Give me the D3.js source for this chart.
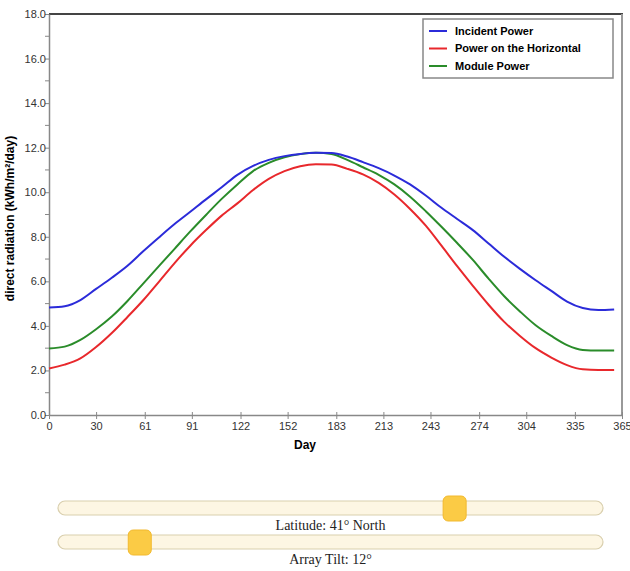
<!DOCTYPE html>
<html lang="en">
<head>
<meta charset="UTF-8">
<title>Solar radiation</title>
<script src="https://cdn.jsdelivr.net/npm/d3@7"></script>
<style>
    body { margin: 0; background: #fff; }
    svg { display: block; }
</style>
</head>
<body>
<svg width="630" height="571"></svg>
<script>
    // days sampled along the year
    var days = [0, 10, 20, 30, 40, 50, 60, 70, 80, 90, 100, 110, 120, 130, 140, 150, 160, 170, 180,
        190, 200, 210, 220, 230, 240, 250, 260, 270, 280, 290, 300, 310, 320, 330, 340, 350, 360];

    var incidentPower = [4.82, 4.88, 5.16, 5.66, 6.16, 6.70, 7.35, 7.97, 8.57, 9.12, 9.68, 10.22, 10.78,
        11.18, 11.45, 11.62, 11.72, 11.77, 11.76, 11.60, 11.35, 11.08, 10.75, 10.35, 9.85, 9.30, 8.80,
        8.30, 7.70, 7.10, 6.56, 6.05, 5.57, 5.09, 4.80, 4.71, 4.74];

    var horizontalPower = [2.09, 2.26, 2.54, 3.05, 3.68, 4.40, 5.15, 5.98, 6.82, 7.60, 8.30, 8.95, 9.50,
        10.10, 10.60, 10.95, 11.17, 11.26, 11.24, 11.05, 10.80, 10.42, 9.90, 9.25, 8.50, 7.60, 6.68,
        5.80, 4.95, 4.18, 3.55, 3.00, 2.58, 2.24, 2.05, 2.02, 2.02];

    var modulePower = [2.99, 3.07, 3.37, 3.85, 4.42, 5.12, 5.90, 6.68, 7.46, 8.24, 8.98, 9.70, 10.35,
        10.95, 11.32, 11.57, 11.71, 11.77, 11.72, 11.45, 11.12, 10.78, 10.35, 9.80, 9.15, 8.45, 7.72,
        6.96, 6.12, 5.33, 4.65, 4.03, 3.55, 3.14, 2.92, 2.89, 2.89];

    var seriesNames = ["Incident Power", "Power on the Horizontal", "Module Power"];
    var seriesColors = ["#2b2bd9", "#e8282c", "#2a8c2a"];

    var xTicks = [0, 30, 61, 91, 122, 152, 183, 213, 243, 274, 304, 335, 365];
    var yTicks = [0, 2, 4, 6, 8, 10, 12, 14, 16, 18];
    var yMinor = [1, 3, 5, 7, 9, 11, 13, 15, 17];

    var latitude = 41;
    var tilt = 12;

    var svg = d3.select("svg");
    var plotLeft = 49, plotRight = 622, plotTop = 14, plotBottom = 415;

    var x = d3.scaleLinear().domain([0, 365]).range([plotLeft, plotRight]);
    var y = d3.scaleLinear().domain([0, 18]).range([plotBottom, plotTop]);

    var font = "'Liberation Sans', Arial, sans-serif";

    // frame: top dark, right grey
    svg.append("line").attr("x1", plotLeft).attr("x2", plotRight + 1).attr("y1", plotTop).attr("y2", plotTop)
        .attr("stroke", "#444").attr("stroke-width", 2);
    svg.append("line").attr("x1", plotRight).attr("x2", plotRight).attr("y1", plotTop).attr("y2", plotBottom)
        .attr("stroke", "#999").attr("stroke-width", 2);

    // y axis
    var yAxis = svg.append("g").attr("transform", "translate(" + plotLeft + ",0)")
        .call(d3.axisLeft(y).tickValues(yTicks).tickFormat(d3.format(".1f")).tickSize(4).tickSizeOuter(0));
    yAxis.append("g").selectAll("line").data(yMinor).join("line")
        .attr("x1", -4).attr("x2", 0)
        .attr("y1", function (d) { return y(d); })
        .attr("y2", function (d) { return y(d); })
        .attr("stroke", "#888");

    // x axis
    var xAxis = svg.append("g").attr("transform", "translate(0," + plotBottom + ")")
        .call(d3.axisBottom(x).tickValues(xTicks).tickSize(4).tickSizeOuter(0));
    xAxis.selectAll(".tick line").attr("y1", -3);

    [yAxis, xAxis].forEach(function (g) {
        g.select(".domain").attr("stroke", "#888").attr("stroke-width", 1.5);
        g.selectAll(".tick line").attr("stroke", "#888");
        g.selectAll("text").attr("fill", "#333").style("font-family", font).style("font-size", "11px");
    });
    yAxis.selectAll(".tick text").attr("x", -3);

    // axis titles
    svg.append("text").attr("x", 305).attr("y", 449)
        .attr("text-anchor", "middle").style("font-family", font).style("font-size", "12px")
        .style("font-weight", "bold").text("Day");
    svg.append("text").attr("transform", "translate(14," + ((plotTop + plotBottom) / 2 + 4) + ") rotate(-90)")
        .attr("text-anchor", "middle").style("font-family", font).style("font-size", "12px")
        .style("font-weight", "bold").text("direct radiation (kWh/m²/day)");

    // lines
    var allSeries = [incidentPower, horizontalPower, modulePower];
    var line = d3.line()
        .x(function (d, i) { return x(days[i]); })
        .y(function (d) { return y(d); })
        .curve(d3.curveMonotoneX);

    svg.append("g").selectAll("path").data([allSeries[1], allSeries[2], allSeries[0]]).join("path")
        .attr("d", line)
        .attr("fill", "none")
        .attr("stroke", function (d) { return seriesColors[allSeries.indexOf(d)]; })
        .attr("stroke-width", 2);

    // legend
    var legend = svg.append("g").attr("transform", "translate(423,19)");
    legend.append("rect").attr("width", 190).attr("height", 59)
        .attr("fill", "#fff").attr("stroke", "#888").attr("stroke-width", 1.5);
    var item = legend.selectAll("g.item").data(seriesNames).join("g")
        .attr("transform", function (d, i) { return "translate(6," + (12 + i * 17.5) + ")"; });
    item.append("line").attr("x1", 0).attr("x2", 18)
        .attr("stroke", function (d, i) { return seriesColors[i]; }).attr("stroke-width", 2);
    item.append("text").attr("x", 26).attr("dy", "0.35em")
        .style("font-family", font).style("font-size", "11px").style("font-weight", "bold")
        .text(function (d) { return d; });

    // sliders
    var trackLeft = 58, trackRight = 603;
    var sliders = [
        { value: latitude, domain: [-90, 90], label: "Latitude: " + latitude + "° North", y: 501 },
        { value: tilt, domain: [0, 80], label: "Array Tilt: " + tilt + "°", y: 535 }
    ];
    var slider = svg.append("g").selectAll("g").data(sliders).join("g");
    slider.append("rect").attr("x", trackLeft).attr("y", function (d) { return d.y; })
        .attr("width", trackRight - trackLeft).attr("height", 14).attr("rx", 7)
        .attr("fill", "#fdf6e3").attr("stroke", "#d9cfae").attr("stroke-width", 1.2);
    slider.append("rect")
        .attr("x", function (d) {
            var s = d3.scaleLinear().domain(d.domain).range([trackLeft, trackRight]);
            return s(d.value) - 11.5;
        })
        .attr("y", function (d) { return d.y - 5; })
        .attr("width", 23).attr("height", 25).attr("rx", 5)
        .attr("fill", "#fbcb45").attr("stroke", "#f2b92e");
    slider.append("text").attr("x", (trackLeft + trackRight) / 2)
        .attr("y", function (d) { return d.y + 29; })
        .attr("text-anchor", "middle")
        .style("font-family", "'Liberation Serif', 'Times New Roman', serif").style("font-size", "14px")
        .attr("fill", "#222")
        .text(function (d) { return d.label; });
</script>
</body>
</html>
